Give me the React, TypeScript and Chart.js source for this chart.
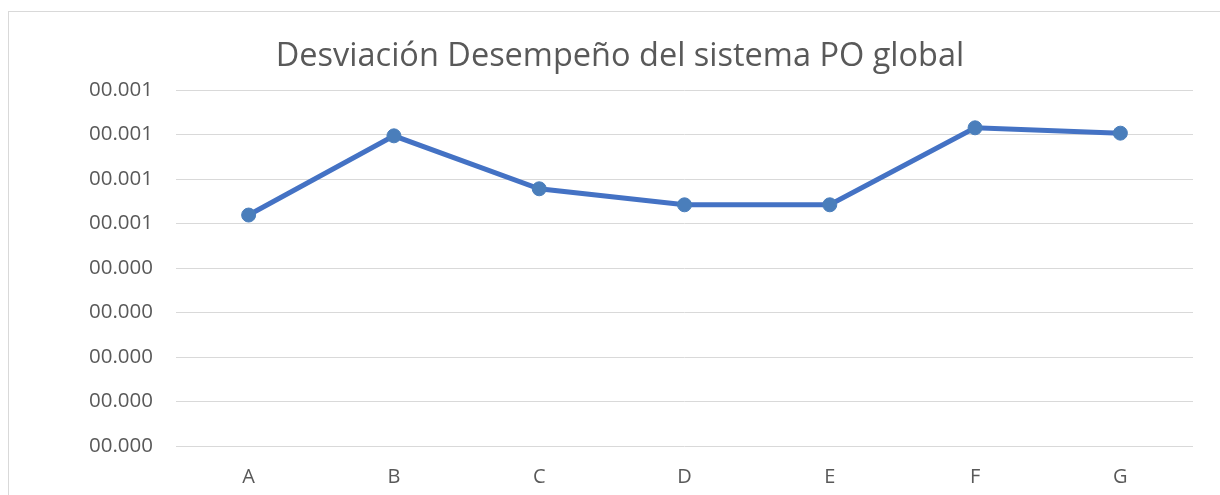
import React, { useEffect, useRef } from "react";
import { Chart, registerables } from "chart.js";

Chart.register(...registerables);

const categories = ["A", "B", "C", "D", "E", "F", "G"];
const values = [0.000519, 0.000697, 0.000578, 0.000542, 0.000542, 0.000715, 0.000703];
const chartTitle = "Desviación Desempeño del sistema PO global";

const FONT = "'Open Sans', 'Noto Sans', sans-serif";
const CANVAS_LEFT = 47;
const CANVAS_W = 1220 - CANVAS_LEFT;

export default function App() {
  const ref = useRef<HTMLCanvasElement | null>(null);

  useEffect(() => {
    if (!ref.current) return;
    const chart = new Chart(ref.current, {
      type: "line",
      data: {
        labels: categories,
        datasets: [
          {
            data: values,
            borderColor: "#4472C4",
            borderWidth: 5,
            pointRadius: 7,
            pointHoverRadius: 7,
            pointBackgroundColor: "#4A7EBB",
            pointBorderColor: "#4A7EBB",
            pointBorderWidth: 1,
            tension: 0,
            fill: false,
          },
        ],
      },
      options: {
        responsive: false,
        animation: false,
        layout: { padding: { left: 0, right: 27, top: 0, bottom: 0 } },
        plugins: {
          legend: { display: false },
          tooltip: { enabled: false },
          title: {
            display: true,
            text: chartTitle,
            color: "#595959",
            font: { family: FONT, size: 32.5, weight: "normal", lineHeight: 1.2 },
            padding: { top: 37.5, bottom: 13.5 },
          },
        },
        scales: {
          x: {
            offset: true,
            grid: { display: false, drawTicks: false },
            border: { display: false },
            ticks: {
              color: "#595959",
              font: { family: FONT, size: 20 },
              padding: 19,
            },
            afterFit: (s: any) => {
              s.height = 495 - 446;
            },
          },
          y: {
            min: 0,
            max: 0.0008,
            grid: { color: "#D9D9D9", lineWidth: 1, drawTicks: false },
            border: { display: false },
            ticks: {
              stepSize: 0.0001,
              color: "#595959",
              font: { family: FONT, size: 20.5 },
              padding: 23,
              callback: (v: any) => "0" + Number(v).toFixed(3),
            },
            afterFit: (s: any) => {
              s.width = 176 - CANVAS_LEFT;
            },
          },
        },
      },
    });
    return () => chart.destroy();
  }, []);

  return (
    <div style={{ position: "absolute", left: 0, top: 0, width: 1220, height: 495, overflow: "hidden", background: "#fff" }}>
      <div
        style={{
          position: "absolute",
          left: 8,
          top: 11,
          width: 1240,
          height: 520,
          border: "1px solid #D9D9D9",
          boxSizing: "border-box",
        }}
      />
      <canvas
        ref={ref}
        width={CANVAS_W}
        height={495}
        style={{ position: "absolute", left: CANVAS_LEFT, top: 0 }}
      />
    </div>
  );
}
